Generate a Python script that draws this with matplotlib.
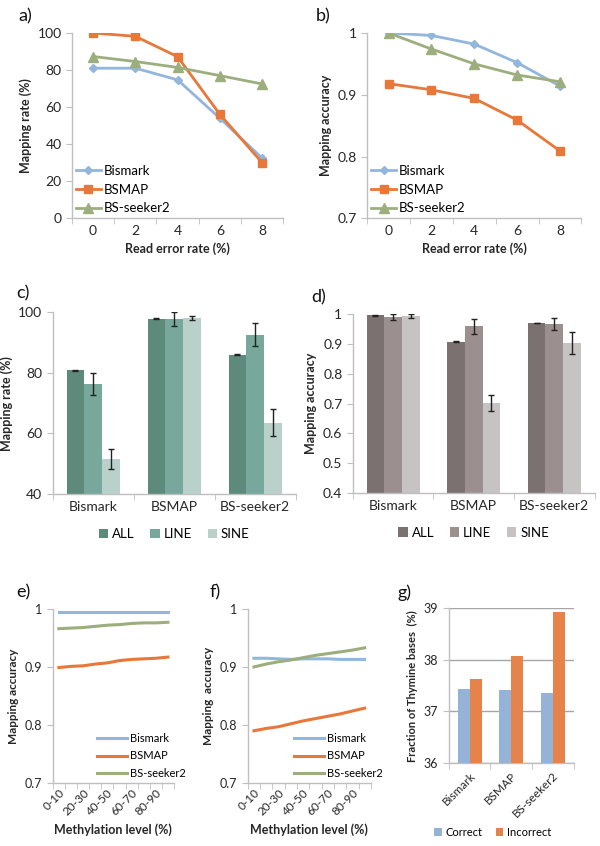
import matplotlib.pyplot as plt
import numpy as np

plt.rcParams['font.family'] = ['Lato', 'DejaVu Sans']
plt.rcParams['font.size'] = 9

# data
err_rate = [0, 2, 4, 6, 8]
rate_bismark = [81, 81, 74.7, 54, 32.5]
rate_bsmap = [100, 98.2, 87.2, 56.1, 30]
rate_seeker = [87.3, 84.6, 81.4, 77, 72.5]

acc_bismark = [1.0, 0.996, 0.982, 0.952, 0.914]
acc_bsmap = [0.918, 0.908, 0.894, 0.859, 0.809]
acc_seeker = [1.0, 0.974, 0.950, 0.932, 0.921]

tools = ['Bismark', 'BSMAP', 'BS-seeker2']
repeat_types = ['ALL', 'LINE', 'SINE']
rep_rate = [[80.8, 97.9, 86.0], [76.4, 97.8, 92.6], [51.6, 98.1, 63.5]]
rep_rate_err = [[0.2, 0.2, 0.2], [3.6, 2.2, 3.7], [3.3, 0.8, 4.4]]
rep_acc = [[0.995, 0.907, 0.970], [0.990, 0.959, 0.966], [0.993, 0.702, 0.902]]
rep_acc_err = [[0.001, 0.001, 0.001], [0.010, 0.025, 0.021], [0.008, 0.027, 0.037]]

meth_levels = ['0-10', '10-20', '20-30', '30-40', '40-50', '50-60', '60-70', '70-80', '80-90', '90-100']
e_bismark = [0.995] * 10
e_bsmap = [0.899, 0.901, 0.902, 0.905, 0.907, 0.911, 0.913, 0.914, 0.915, 0.917]
e_seeker = [0.966, 0.967, 0.968, 0.970, 0.972, 0.973, 0.975, 0.976, 0.976, 0.977]
f_bismark = [0.915, 0.915, 0.914, 0.913, 0.914, 0.914, 0.914, 0.913, 0.913, 0.913]
f_bsmap = [0.790, 0.794, 0.797, 0.802, 0.807, 0.811, 0.815, 0.819, 0.824, 0.829]
f_seeker = [0.900, 0.905, 0.909, 0.912, 0.916, 0.920, 0.923, 0.926, 0.929, 0.933]

thy_correct = [37.44, 37.41, 37.35]
thy_incorrect = [37.63, 38.07, 38.92]

BLUE = '#93B6DD'
ORANGE = '#E8773A'
GREEN = '#9DAE7E'
AXC = '#BFBFBF'
TXT = '#262626'

fig = plt.figure(figsize=(6, 8.46), dpi=100)


def style(ax, n, ts=10):
    for s in ['top', 'right']:
        ax.spines[s].set_visible(False)
    for s in ['left', 'bottom']:
        ax.spines[s].set_color(AXC)
        ax.spines[s].set_linewidth(1)
    ax.set_xlim(-0.5, n - 0.5)
    ax.set_xticks(np.arange(-0.5, n, 1), minor=True)
    ax.tick_params(axis='x', which='major', length=0, colors=TXT, pad=5, labelsize=ts)
    ax.tick_params(axis='x', which='minor', length=4, color=AXC)
    ax.tick_params(axis='y', length=4, color=AXC, colors=TXT, labelsize=ts)


def label(x, y, s):
    fig.text(x / 600, 1 - y / 846, s, fontsize=13, ha='left', va='center', color='#111111')


def fmt(v):
    return '%g' % v


def line_legend(ax):
    ax.legend(loc='lower left', bbox_to_anchor=(0.0, 0.0), frameon=False, fontsize=9.5,
              borderaxespad=0, borderpad=0.3, handlelength=1.9, handletextpad=0.2,
              labelspacing=0.5)


# a)
ax = fig.add_axes([0.12, 0.742, 0.352, 0.219])
x = np.arange(5)
ax.plot(x, rate_bismark, color=BLUE, lw=2, marker='D', ms=4.5, label='Bismark')
ax.plot(x, rate_bsmap, color=ORANGE, lw=2, marker='s', ms=6, label='BSMAP')
ax.plot(x, rate_seeker, color=GREEN, lw=2, marker='^', ms=6.5, label='BS-seeker2')
style(ax, 5)
ax.set_xticks(x)
ax.set_xticklabels([str(v) for v in err_rate])
ax.set_ylim(0, 100)
ax.set_yticks([0, 20, 40, 60, 80, 100])
ax.set_ylabel('Mapping rate (%)', fontweight='bold', color=TXT, fontsize=9)
ax.set_xlabel('Read error rate (%)', fontweight='bold', color=TXT, fontsize=9)
line_legend(ax)
label(18, 16, 'a)')

# b)
ax = fig.add_axes([0.612, 0.742, 0.357, 0.219])
ax.plot(x, acc_bismark, color=BLUE, lw=2, marker='D', ms=4.5, label='Bismark')
ax.plot(x, acc_bsmap, color=ORANGE, lw=2, marker='s', ms=6, label='BSMAP')
ax.plot(x, acc_seeker, color=GREEN, lw=2, marker='^', ms=6.5, label='BS-seeker2')
style(ax, 5)
ax.set_xticks(x)
ax.set_xticklabels([str(v) for v in err_rate])
ax.set_ylim(0.7, 1.0)
ax.set_yticks([0.7, 0.8, 0.9, 1.0])
ax.set_yticklabels([fmt(v) for v in [0.7, 0.8, 0.9, 1]])
ax.set_ylabel('Mapping accuracy', fontweight='bold', color=TXT, fontsize=9)
ax.set_xlabel('Read error rate (%)', fontweight='bold', color=TXT, fontsize=9)
line_legend(ax)
label(316, 16, 'b)')


def grouped(ax, vals, errs, colors, ylim, yticks):
    w = 0.22
    xc = np.arange(3)
    for i in range(3):
        ax.bar(xc + (i - 1) * w, vals[i], w, yerr=errs[i], color=colors[i], label=repeat_types[i],
               error_kw=dict(ecolor='#222222', elinewidth=1, capsize=2.5, capthick=1))
    style(ax, 3)
    ax.set_xticks(xc)
    ax.set_xticklabels(tools)
    ax.set_ylim(*ylim)
    ax.set_yticks(yticks)
    ax.set_yticklabels([fmt(v) for v in yticks])
    ax.legend(loc='upper center', bbox_to_anchor=(0.5, -0.12), ncol=3, frameon=False, fontsize=9.5,
              handlelength=0.7, handleheight=0.7, handletextpad=0.3, columnspacing=1.2)


# c)
ax = fig.add_axes([0.088, 0.416, 0.405, 0.215])
grouped(ax, rep_rate, rep_rate_err, ['#5E8A7C', '#78A89B', '#B9D1CA'], (40, 100), [40, 60, 80, 100])
ax.set_ylabel('Mapping rate (%)', fontweight='bold', color=TXT, fontsize=9)
label(16, 293, 'c)')

# d)
ax = fig.add_axes([0.588, 0.417, 0.403, 0.212])
grouped(ax, rep_acc, rep_acc_err, ['#7B7170', '#9B908F', '#C8C3C3'], (0.4, 1.0),
        [0.4, 0.5, 0.6, 0.7, 0.8, 0.9, 1.0])
ax.set_ylabel('Mapping accuracy', fontweight='bold', color=TXT, fontsize=9)
label(311, 297, 'd)')


def meth(ax, b, m, s, ylabel, lx):
    xm = np.arange(10)
    ax.plot(xm, b, color=BLUE, lw=2.2, label='Bismark')
    ax.plot(xm, m, color=ORANGE, lw=2.2, label='BSMAP')
    ax.plot(xm, s, color=GREEN, lw=2.2, label='BS-seeker2')
    style(ax, 10, ts=9)
    ax.set_xticks(xm[::2])
    ax.set_xticklabels(meth_levels[::2], rotation=45, ha='right', rotation_mode='anchor', fontsize=8.5)
    ax.tick_params(axis='x', pad=3)
    ax.set_ylim(0.7, 1.0)
    ax.set_yticks([0.7, 0.8, 0.9, 1.0])
    ax.set_yticklabels([fmt(v) for v in [0.7, 0.8, 0.9, 1]])
    ax.set_ylabel(ylabel, fontweight='bold', color=TXT, fontsize=8.5)
    ax.set_xlabel('Methylation level (%)', fontweight='bold', color=TXT, fontsize=9)
    ax.legend(loc='lower left', bbox_to_anchor=(lx, 0.0), frameon=False, fontsize=8,
              borderaxespad=0, borderpad=0.35, handlelength=2.7, handletextpad=0.3,
              labelspacing=0.6)


# e)
ax = fig.add_axes([0.088, 0.0745, 0.202, 0.2057])
meth(ax, e_bismark, e_bsmap, e_seeker, 'Mapping accuracy', 0.33)
label(16, 592, 'e)')

# f)
ax = fig.add_axes([0.413, 0.0745, 0.205, 0.2057])
meth(ax, f_bismark, f_bsmap, f_seeker, 'Mapping  accuracy', 0.34)
label(210, 592, 'f)')

# g)
ax = fig.add_axes([0.748, 0.098, 0.208, 0.183])
xg = np.arange(3)
w = 0.29
ax.bar(xg - w / 2, thy_correct, w, color='#95B3D7', label='Correct', zorder=3)
ax.bar(xg + w / 2, thy_incorrect, w, color='#E6834A', label='Incorrect', zorder=3)
style(ax, 3, ts=9)
ax.set_xticks(xg)
ax.set_xticklabels(tools, rotation=45, ha='right', rotation_mode='anchor', fontsize=8.5)
ax.set_ylim(36, 39)
ax.set_yticks([36, 37, 38, 39])
ax.yaxis.grid(True, color='#A6A6A6', lw=1, zorder=0)
ax.set_ylabel('Fraction of Thymine bases  (%)', fontweight='bold', color=TXT, fontsize=8)
ax.legend(loc='center', bbox_to_anchor=(0.35, -0.45), ncol=2, frameon=False, fontsize=8,
          handlelength=0.7, handleheight=0.7, handletextpad=0.3, columnspacing=1.2)
label(397, 593, 'g)')

fig.savefig('out.png', dpi=100)
